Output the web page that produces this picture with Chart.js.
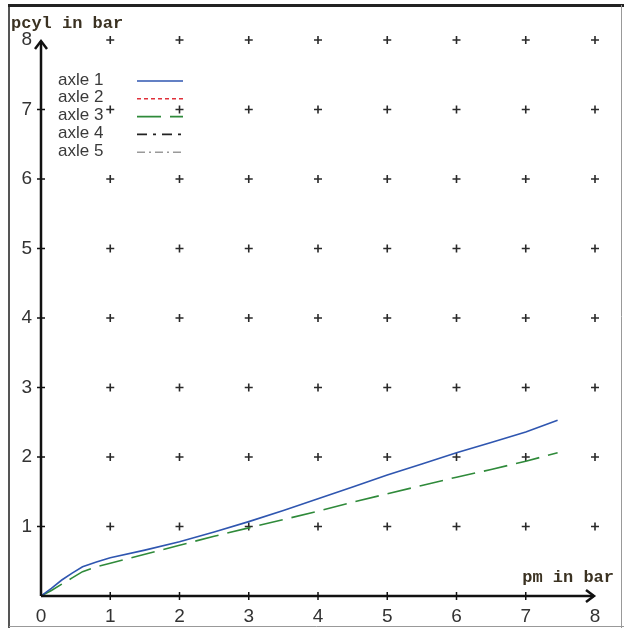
<!DOCTYPE html>
<html>
<head>
<meta charset="utf-8">
<script src="https://cdn.jsdelivr.net/npm/chart.js@4"></script>
<style>
  html, body { margin: 0; padding: 0; background: #fff; }
  #wrap { width: 624px; height: 628px; position: relative; }
</style>
</head>
<body>
<div id="wrap"><canvas id="pcyl-chart" width="624" height="628"></canvas></div>
<script>
// values (pm in bar -> pcyl in bar)
const pmValues  = [0, 0.15, 0.3, 0.45, 0.6, 0.8, 1, 1.5, 2, 2.5, 3, 3.5, 4, 4.5, 5, 5.5, 6, 6.5, 7, 7.46];
const axle1     = [0, 0.11, 0.23, 0.33, 0.42, 0.49, 0.55, 0.66, 0.78, 0.92, 1.07, 1.23, 1.40, 1.57, 1.74, 1.90, 2.06, 2.21, 2.36, 2.53];
const axle2     = [];
const axle3     = [0, 0.08, 0.17, 0.26, 0.35, 0.42, 0.47, 0.60, 0.73, 0.86, 0.98, 1.10, 1.22, 1.35, 1.47, 1.59, 1.71, 1.82, 1.94, 2.06];
const axle4     = [];
const axle5     = [];
const axleNames = ['axle 1', 'axle 2', 'axle 3', 'axle 4', 'axle 5'];
const tickValues = [0, 1, 2, 3, 4, 5, 6, 7, 8];
const xTitle = 'pm in bar';
const yTitle = 'pcyl in bar';

const AXLE_STYLE = [
  { color: '#2f56b0', dash: [] },
  { color: '#e0303a', dash: [4, 3] },
  { color: '#2f8a3a', dash: [24, 9] },
  { color: '#222222', dash: [10, 6, 3, 6] },
  { color: '#9a9a9a', dash: [8, 4, 2, 4] },
];

function toPoints(ys) {
  return ys.map((y, i) => ({ x: pmValues[i], y: y }));
}

// "+" marks at every grid crossing, from the tick values
const crossPoints = [];
for (let gx of tickValues.slice(1)) {
  for (let gy of tickValues.slice(1)) {
    crossPoints.push({ x: gx, y: gy });
  }
}

const seriesValues = [axle1, axle2, axle3, axle4, axle5];
const datasets = seriesValues.map((vals, i) => ({
  label: axleNames[i],
  data: toPoints(vals),
  showLine: true,
  borderColor: AXLE_STYLE[i].color,
  borderDash: AXLE_STYLE[i].dash,
  borderWidth: 1.6,
  pointRadius: 0,
  tension: 0,
}));
datasets.push({
  label: 'grid',
  data: crossPoints,
  showLine: false,
  clip: false,
  pointStyle: 'cross',
  pointRadius: 4,
  borderColor: '#2a2a2a',
  borderWidth: 1.6,
});

// frame, axes with arrows, tick marks, titles and legend
const decorPlugin = {
  id: 'decor',
  beforeDraw(chart) {
    const c = chart.ctx;
    c.save();
    c.fillStyle = '#fff';
    c.fillRect(0, 0, chart.width, chart.height);
    c.strokeStyle = '#555';
    c.lineWidth = 2;
    c.beginPath();
    c.moveTo(9, 628); c.lineTo(9, 5);
    c.stroke();
    c.strokeStyle = '#222';
    c.lineWidth = 3;
    c.beginPath();
    c.moveTo(8, 5.5); c.lineTo(624, 5.5);
    c.stroke();
    c.strokeStyle = '#999';
    c.lineWidth = 1;
    c.beginPath();
    c.moveTo(621.5, 5); c.lineTo(621.5, 628);
    c.moveTo(9, 626.5); c.lineTo(624, 626.5);
    c.stroke();
    c.restore();
  },
  afterDatasetsDraw(chart) {
    const c = chart.ctx;
    const xs = chart.scales.x, ys = chart.scales.y;
    const x0 = xs.getPixelForValue(0), x8 = xs.getPixelForValue(8);
    const y0 = ys.getPixelForValue(0), y8 = ys.getPixelForValue(8);
    c.save();
    c.strokeStyle = '#111';
    c.lineWidth = 2.5;
    c.lineCap = 'butt';
    c.beginPath();
    c.moveTo(x0, y0); c.lineTo(x8 - 1, y0);
    c.moveTo(x0, y0); c.lineTo(x0, y8 + 1);
    c.stroke();
    // arrow heads
    c.beginPath();
    c.moveTo(x8 - 9, y0 - 6); c.lineTo(x8 - 1, y0); c.lineTo(x8 - 9, y0 + 6);
    c.moveTo(x0 - 6, y8 + 9); c.lineTo(x0, y8 + 1); c.lineTo(x0 + 6, y8 + 9);
    c.stroke();
    // tick marks crossing the axes
    c.lineWidth = 1.5;
    c.beginPath();
    for (let v of tickValues.slice(1, -1)) {
      const px = xs.getPixelForValue(v);
      c.moveTo(px, y0 - 4); c.lineTo(px, y0 + 4);
      const py = ys.getPixelForValue(v);
      c.moveTo(x0 - 4, py); c.lineTo(x0 + 4, py);
    }
    c.stroke();
    // axis titles
    c.fillStyle = '#3b3222';
    c.font = 'bold 17px "Liberation Mono", "DejaVu Sans Mono", monospace';
    c.textBaseline = 'alphabetic';
    c.textAlign = 'left';
    c.fillText(yTitle, 11, 28);
    c.textAlign = 'right';
    c.fillText(xTitle, 614, 582);
    // legend
    c.font = '17px "Liberation Sans", Arial, sans-serif';
    c.textAlign = 'left';
    c.textBaseline = 'middle';
    chart.data.datasets.slice(0, axleNames.length).forEach((ds, i) => {
      const rowY = 80 + i * 17.8;
      c.fillStyle = '#3a3a3a';
      c.fillText(ds.label, 58, rowY);
      c.strokeStyle = ds.borderColor;
      c.lineWidth = 1.6;
      c.setLineDash(ds.borderDash);
      c.beginPath();
      c.moveTo(137, rowY + 1); c.lineTo(183, rowY + 1);
      c.stroke();
      c.setLineDash([]);
    });
    c.restore();
  }
};

const ctx = document.getElementById('pcyl-chart').getContext('2d');
new Chart(ctx, {
  type: 'scatter',
  data: { datasets: datasets },
  options: {
    responsive: false,
    animation: false,
    layout: { padding: { left: 0, top: 40, right: 29, bottom: 0 } },
    scales: {
      x: {
        type: 'linear', min: 0, max: 8,
        afterFit: s => { s.height = 32; },
        grid: { display: false, drawTicks: false },
        border: { display: false },
        ticks: {
          stepSize: 1, autoSkip: false, maxRotation: 0, padding: 9,
          color: '#333',
          font: { family: '"Liberation Sans", Arial, sans-serif', size: 19 },
        },
      },
      y: {
        type: 'linear', min: 0, max: 8,
        afterFit: s => { s.width = 41; },
        grid: { display: false, drawTicks: false },
        border: { display: false },
        ticks: {
          stepSize: 1, padding: 9,
          color: '#333',
          font: { family: '"Liberation Sans", Arial, sans-serif', size: 19 },
          callback: v => (v === 0 ? '' : v),
        },
      },
    },
    plugins: {
      legend: { display: false },
      tooltip: { enabled: false },
    },
  },
  plugins: [decorPlugin],
});
</script>
</body>
</html>
